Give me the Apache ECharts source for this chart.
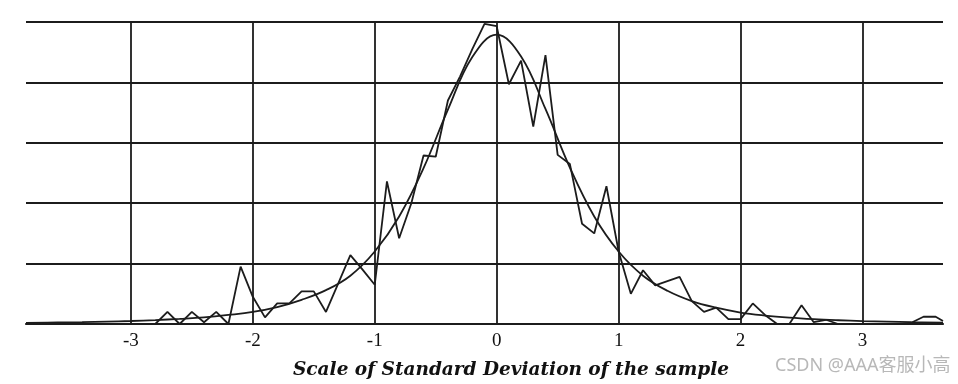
<!DOCTYPE html>
<html>
<head>
<meta charset="utf-8">
<script src="https://cdn.jsdelivr.net/npm/echarts@6/dist/echarts.min.js"></script>
<style>
html,body{margin:0;padding:0;background:#fff;}
#chart{width:958px;height:384px;}
</style>
</head>
<body>
<div id="chart"></div>
<script>
// Observed sample frequencies (grid units) at each 0.1 s.d. step
var sampleX = [-3.8,-3.7,-3.6,-3.5,-3.4,-3.3,-3.2,-3.1,-3.0,-2.9,-2.8,-2.7,-2.6,-2.5,-2.4,-2.3,-2.2,-2.1,-2.0,-1.9,
  -1.8,-1.7,-1.6,-1.5,-1.4,-1.3,-1.2,-1.1,-1.0,-0.9,-0.8,-0.7,-0.6,-0.5,-0.4,-0.3,-0.2,-0.1,0.0,
  0.1,0.2,0.3,0.4,0.5,0.6,0.7,0.8,0.9,1.0,1.1,1.2,1.3,1.4,1.5,1.6,1.7,1.8,1.9,2.0,
  2.1,2.2,2.3,2.4,2.5,2.6,2.7,2.8,2.9,3.0,3.1,3.2,3.3,3.4,3.5,3.6,3.66];
var sampleY = [0,0,0,0,0,0,0,0,0,0,0,0.2,0,0.2,0.03,0.2,0,0.95,0.45,0.11,
  0.34,0.34,0.54,0.54,0.2,0.67,1.14,0.9,0.65,2.36,1.42,2.0,2.79,2.77,3.7,4.1,4.55,4.97,4.93,
  3.97,4.36,3.27,4.45,2.8,2.65,1.66,1.5,2.28,1.2,0.5,0.89,0.64,0.71,0.78,0.38,0.2,0.27,0.08,0.08,
  0.34,0.15,0,0,0.31,0.03,0.07,0,0,0,0,0,0,0.02,0.12,0.12,0.05];

// Theoretical curve (grid units) read at 0.2 s.d. steps
var curveX = [-3.86,-3.6,-3.4,-3.2,-3.0,-2.8,-2.6,-2.4,-2.2,-2.0,-1.8,-1.6,-1.4,-1.2,-1.0,-0.8,-0.6,-0.4,-0.2,0.0,
  0.2,0.4,0.6,0.8,1.0,1.2,1.4,1.6,1.8,2.0,2.2,2.4,2.6,2.8,3.0,3.2,3.4,3.66];
var curveY = [0.02,0.025,0.03,0.04,0.05,0.065,0.085,0.11,0.15,0.2,0.28,0.4,0.56,0.8,1.2,1.78,2.58,3.55,4.42,4.79,
  4.43,3.56,2.59,1.78,1.2,0.8,0.55,0.38,0.27,0.19,0.14,0.105,0.08,0.062,0.048,0.038,0.03,0.024];

var xLabelTicks = [-3,-2,-1,0,1,2,3];
var axisTitle = 'Scale of Standard Deviation of the sample';
var watermark = 'CSDN @AAA客服小高';

function pairs(xs, ys){ return xs.map(function(x,i){ return [x, ys[i]]; }); }

var ink = '#1c1c1c';
var chart = echarts.init(document.getElementById('chart'), null, {renderer:'canvas'});
chart.setOption({
  animation: false,
  backgroundColor: '#ffffff',
  grid: {left: 26, right: 15, top: 22, bottom: 60, containLabel: false},
  xAxis: {
    type: 'value', min: -3.86, max: 3.66, splitNumber: 8, minInterval: 1, maxInterval: 1,
    axisLine: {show: true, onZero: false, lineStyle: {color: ink, width: 2.2}},
    axisTick: {show: false},
    axisLabel: {
      show: true, margin: 8, showMinLabel: false, showMaxLabel: false,
      color: '#111', fontFamily: 'Liberation Serif', fontSize: 19,
      formatter: function(v){ return xLabelTicks.indexOf(Math.round(v)) >= 0 && Math.abs(v - Math.round(v)) < 1e-6 ? String(Math.round(v)) : ''; }
    },
    splitLine: {show: true, showMinLine: false, showMaxLine: false, lineStyle: {color: ink, width: 1.8}}
  },
  yAxis: {
    type: 'value', min: 0, max: 5, interval: 1,
    axisLine: {show: false}, axisTick: {show: false}, axisLabel: {show: false},
    splitLine: {show: true, lineStyle: {color: ink, width: 2.2}}
  },
  series: [
    {
      type: 'line', data: pairs(sampleX, sampleY), symbol: 'none', smooth: false,
      lineStyle: {color: ink, width: 1.8}, z: 3
    },
    {
      type: 'line', data: pairs(curveX, curveY), symbol: 'none', smooth: 0.4,
      lineStyle: {color: ink, width: 1.8}, z: 4
    }
  ],
  graphic: [
    {type: 'text', left: 293, top: 361, style: {
      text: axisTitle, fill: '#111',
      font: 'italic bold 18.5px "DejaVu Serif"'
    }},
    {type: 'text', left: 775, top: 357, style: {
      text: watermark, fill: '#b8b8b8', font: '18px "Noto Sans", "Noto Sans CJK SC"'
    }}
  ]
});
</script>
</body>
</html>
